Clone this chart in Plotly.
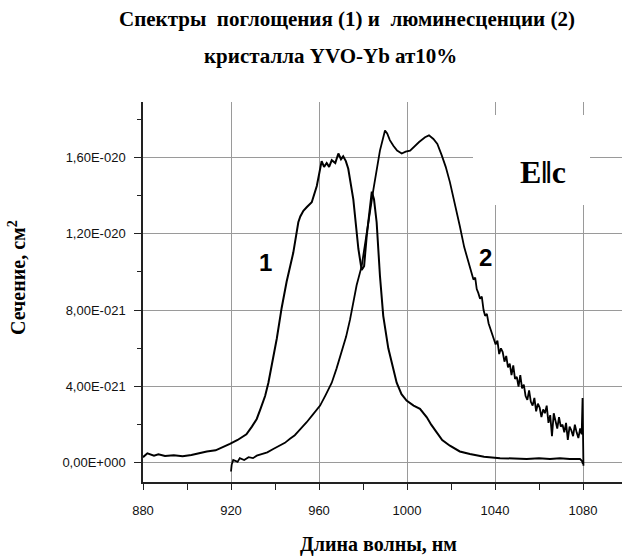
import plotly.graph_objects as go

# ---------------- data (cross-section in units of 1e-21 cm^2) ----------------
abs_wl = [880, 882, 885, 887, 890, 894, 898, 902, 906, 909, 913, 916, 919.5, 923, 927, 929.5, 931.7,
          933.5, 935.5, 937, 938.5, 940.8, 943, 945.3, 948.3, 950.6, 951.5, 952.9, 954.5,
          956.7, 959, 961.2, 962.3, 963.5, 964.6, 965.8, 967.4, 968.8, 970, 971, 972.2,
          973.3, 975.6, 977.9, 979.4, 980.5, 981.7, 983, 984, 985, 986.2, 987.7, 989.2,
          991.5, 993.5, 995.3, 997.5, 999.8, 1003, 1005.9, 1009, 1011, 1013.5, 1016,
          1019.5, 1024, 1028.6, 1035, 1042.3, 1048, 1054.4, 1060, 1065, 1069.5, 1074,
          1078.6, 1079.6, 1080]
abs_val = [0.30, 0.50, 0.38, 0.45, 0.36, 0.40, 0.35, 0.41, 0.52, 0.60, 0.66, 0.80, 1.0, 1.2, 1.5, 1.9, 2.3,
           2.85, 3.5, 4.2, 5.1, 6.5, 8.1, 9.5, 11.0, 12.6, 12.9, 13.2, 13.4,
           13.65, 14.5, 15.8, 15.5, 15.7, 15.5, 15.85, 15.7, 16.2, 15.9, 16.05, 15.8,
           15.4, 13.8, 11.2, 10.1, 10.3, 11.9, 13.2, 14.2, 13.8, 12.6, 9.8, 7.7,
           6.0, 5.0, 4.2, 3.6, 3.26, 3.0, 2.83, 2.39, 2.0, 1.6, 1.2,
           0.9, 0.6, 0.47, 0.32, 0.25, 0.22, 0.21, 0.24, 0.20, 0.25, 0.20,
           0.21, 0.10, -0.05]

lum_wl = [920, 920.3, 921, 923, 924, 926, 928, 930, 931.7, 934, 936.5, 939.2, 942, 944.5,
          946.8, 949, 951, 952.7, 954.4, 957, 960.5, 963, 965.8, 968, 970.3, 972.3, 974.1,
          977.1, 979.4, 981.7, 984.7, 987.7, 990, 991, 992.2, 993.8, 995.5, 997.6, 999.4,
          1001.4, 1003.5, 1005.5, 1008.2, 1010, 1012, 1013.8, 1015.8, 1017.6, 1019.5, 1022,
          1024, 1026, 1028.6, 1029.4, 1030.2, 1031.0, 1031.7,
          1032.4, 1033.2, 1034.0, 1034.8, 1035.5, 1036.3, 1037.1, 1037.9, 1038.7, 1039.5,
          1040.3, 1041.1, 1041.9, 1042.7, 1043.5, 1044.3, 1045.1, 1045.9, 1046.7, 1047.5,
          1048.3, 1049.1, 1049.9, 1050.7, 1051.5, 1052.3, 1053.1, 1053.9, 1054.7, 1055.5,
          1056.3, 1057.1, 1057.9, 1058.7, 1059.5, 1060.3, 1061.1, 1061.9, 1062.7, 1063.5,
          1064.3, 1065.1, 1065.9, 1066.7, 1067.5, 1068.3, 1069.1, 1069.9, 1070.7, 1071.5,
          1072.3, 1073.1, 1073.9, 1074.7, 1075.5, 1076.3, 1077.1, 1077.9, 1078.7, 1079.4,
          1079.8, 1080, 1080.2]
lum_val = [-0.45, -0.1, 0.15, 0.05, 0.25, 0.15, 0.3, 0.25, 0.38, 0.45, 0.55, 0.73, 0.9, 1.05,
           1.26, 1.45, 1.7, 1.9, 2.13, 2.5, 3.0, 3.55, 4.2, 4.95, 5.8, 6.6, 7.5,
           9.3, 10.3, 12.1, 14.3, 16.35, 17.4, 17.25, 16.9, 16.6, 16.35, 16.2, 16.3,
           16.35, 16.6, 16.8, 17.05, 17.15, 16.96, 16.7, 16.1, 15.5, 14.7, 13.5,
           12.4, 11.3, 10.3, 10.0, 9.6, 9.7, 9.1,
           8.9, 8.6, 8.7, 8.0, 7.7, 7.8, 7.3, 7.0, 6.7, 6.5,
           6.2, 6.4, 5.7, 6.0, 5.8, 5.3, 5.6, 5.0, 5.2, 4.6,
           5.1, 4.4, 4.5, 4.0, 4.6, 3.9, 4.1, 3.5, 3.3, 3.8,
           3.2, 3.0, 3.4, 2.7, 3.1, 2.9, 2.4, 2.8, 2.6, 3.0,
           2.1, 2.5, 1.4, 2.6, 2.2, 1.8, 2.4, 1.9, 2.0, 1.6,
           2.1, 1.2, 1.9, 1.7, 1.4, 2.0, 1.6, 1.3, 1.8, 1.5,
           3.4, 1.0, -0.15]

x_ticks = [880, 920, 960, 1000, 1040, 1080]
y_tick_vals = [0, 4, 8, 12, 16]
y_tick_text = ["0,00E+000", "4,00E-021", "8,00E-021", "1,20E-020", "1,60E-020"]

title_line1 = "Спектры  поглощения (1) и  люминесценции (2)"
title_line2 = "кристалла YVO-Yb ат10%"
x_title = "Длина волны, нм"
y_title = "Сечение, см<sup>2</sup>"
label1, label2 = "1", "2"
pol_label = "E\u2016c"

SCALE = 1e-21

# ---------------- layout geometry ----------------
W, H = 622, 558
L, R, T, B = 143, 0, 102, 76
PW, PH = W - L - R, H - T - B


def px(x):
    return (x - L) / PW


def py(y):
    return (H - B - y) / PH


fig = go.Figure()
fig.add_trace(go.Scatter(x=abs_wl, y=[v * SCALE for v in abs_val], mode="lines",
                         line=dict(color="black", width=2), showlegend=False))
fig.add_trace(go.Scatter(x=lum_wl, y=[v * SCALE for v in lum_val], mode="lines",
                         line=dict(color="black", width=1.8), showlegend=False))

serif = "Liberation Serif, Times New Roman, serif"
sans = "Liberation Sans, Arial, sans-serif"

fig.update_layout(
    width=W, height=H, margin=dict(l=L, r=R, t=T, b=B, autoexpand=False),
    paper_bgcolor="white", plot_bgcolor="white",
    xaxis=dict(range=[880, 880 + PW / 2.2], tickvals=x_ticks, automargin=False,
               ticks="outside", ticklen=6, tickwidth=1.3, tickcolor="#222",
               showline=True, linecolor="#222", linewidth=1.5,
               showgrid=True, gridcolor="#9a9a9a", gridwidth=1, zeroline=False,
               tickfont=dict(family=sans, size=13, color="#111"), ticklabelstandoff=10,
               minor=dict(dtick=20, tick0=880, ticks="outside", ticklen=6, tickcolor="#222",
                          showgrid=False)),
    yaxis=dict(range=[-1 * SCALE, (-1 + PH / 19.1) * SCALE], automargin=False,
               tickvals=[v * SCALE for v in y_tick_vals], ticktext=y_tick_text,
               ticks="outside", ticklen=7, tickwidth=1.3, tickcolor="#222",
               showline=True, linecolor="#222", linewidth=1.5,
               showgrid=True, gridcolor="#9a9a9a", gridwidth=1, zeroline=False,
               tickfont=dict(family=sans, size=13, color="#111"), ticklabelstandoff=6,
               minor=dict(dtick=2 * SCALE, tick0=0, ticks="outside", ticklen=4,
                          tickcolor="#222", showgrid=False)),
)

# white box behind the polarization label
fig.add_shape(type="rect", xref="paper", yref="paper",
              x0=px(473), x1=px(590), y0=py(205), y1=py(115),
              fillcolor="white", line=dict(width=0), layer="above")

ann = [
    dict(text=title_line1, x=px(347), y=py(19), font=dict(family=serif, size=21, color="black")),
    dict(text=title_line2, x=px(330), y=py(56), font=dict(family=serif, size=21, color="black")),
    dict(text=x_title, x=px(378), y=py(544), font=dict(family=serif, size=20, color="black")),
    dict(text=y_title, x=px(17), y=py(278), textangle=-90,
         font=dict(family=serif, size=20, color="black")),
    dict(text=label1, x=px(265), y=py(262), font=dict(family=sans, size=24, color="black")),
    dict(text=label2, x=px(485), y=py(257), font=dict(family=sans, size=24, color="black")),
    dict(text=pol_label, x=px(543), y=py(172), font=dict(family=serif, size=32, color="black")),
]
for a in ann:
    a["text"] = "<b>" + a["text"] + "</b>"
    fig.add_annotation(xref="paper", yref="paper", showarrow=False,
                       xanchor="center", yanchor="middle", **a)

fig.write_html("out.html", config={"displayModeBar": False},
               post_script="document.body.style.margin='0';document.body.style.padding='0';")
